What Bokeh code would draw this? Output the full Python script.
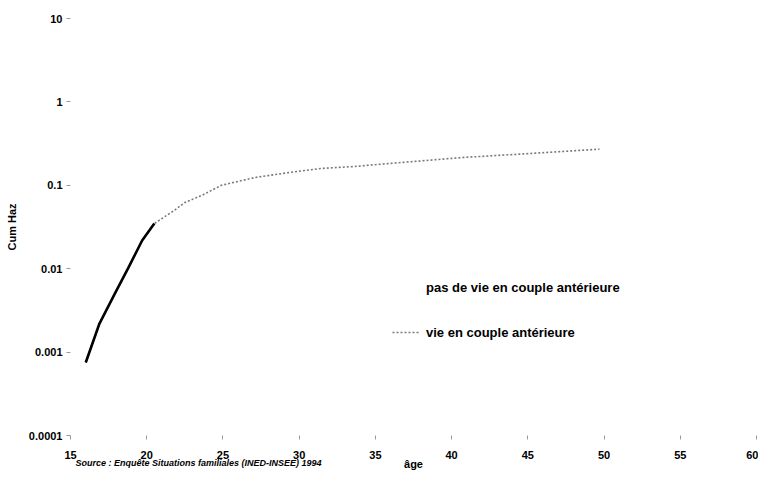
from bokeh.plotting import figure
from bokeh.models import (FixedTicker, CustomJSTickFormatter, Legend, LegendItem,
                          Title, ColumnDataSource)
from bokeh.embed import file_html
from bokeh.resources import INLINE

# ---- data ----
ages_vie = [16.0, 16.9, 17.9, 18.8, 19.7, 20.5, 21.8, 22.5, 23.6, 24.9, 27.1,
            29.3, 31.4, 33.6, 35.8, 40.8, 45.1, 49.4, 49.7]
cum_vie = [0.00075, 0.0022, 0.0050, 0.0103, 0.0218, 0.0348, 0.0499, 0.0622,
           0.0755, 0.100, 0.124, 0.142, 0.159, 0.168, 0.182, 0.216, 0.240,
           0.269, 0.272]
ages_pas = [16.0, 16.9, 17.9, 18.8, 19.7, 20.5]
cum_pas = [0.00075, 0.0022, 0.0050, 0.0103, 0.0218, 0.0348]

x_ticks = [15, 20, 25, 30, 35, 40, 45, 50, 55, 60]
y_ticks = [0.0001, 0.001, 0.01, 0.1, 1, 10]

label_pas = "pas de vie en couple antérieure"
label_vie = "vie en couple antérieure"
x_title = "âge"
y_title = "Cum Haz"
source_note = "Source : Enquête Situations familiales (INED-INSEE) 1994"

FONT = "Liberation Sans"

p = figure(width=758, height=471, x_range=(15, 60), y_range=(0.0001, 10),
           y_axis_type="log", output_backend="svg", toolbar_location=None,
           min_border_left=70, min_border_right=2, min_border_top=18,
           min_border_bottom=36)
p.outline_line_color = None
p.grid.visible = False
p.background_fill_color = "white"
p.border_fill_color = "white"

src_vie = ColumnDataSource(dict(x=ages_vie, y=cum_vie))
src_pas = ColumnDataSource(dict(x=ages_pas, y=cum_pas))

r_vie = p.line("x", "y", source=src_vie, line_color="#7a7a7a", line_width=1.6,
               line_dash="2 2")
r_pas = p.line("x", "y", source=src_pas, line_color="black", line_width=2.6)
proxy = p.line(x=[], y=[], line_color="#f2f2f2", line_width=1)

for ax in (p.xaxis[0], p.yaxis[0]):
    ax.axis_line_color = None
    ax.major_tick_line_color = "#9a9a9a"
    ax.minor_tick_line_color = None
    ax.major_tick_in = 0
    ax.major_tick_out = 4
    ax.major_label_text_font = FONT
    ax.major_label_text_font_style = "bold"
    ax.major_label_text_font_size = "11px"
    ax.major_label_text_color = "black"
    ax.axis_label_text_font = FONT
    ax.axis_label_text_font_style = "bold"
    ax.axis_label_text_font_size = "11px"
    ax.axis_label_text_color = "black"

p.xaxis.ticker = FixedTicker(ticks=x_ticks)
p.yaxis.ticker = FixedTicker(ticks=y_ticks)
p.yaxis.formatter = CustomJSTickFormatter(code="return tick.toString();")
p.xaxis.major_label_standoff = 11
p.yaxis.axis_label = y_title
p.yaxis.axis_label_standoff = 8
p.yaxis.major_label_standoff = 4

legend = Legend(items=[LegendItem(label=label_pas, renderers=[proxy]),
                       LegendItem(label=label_vie, renderers=[r_vie])],
                location=(322, 93), orientation="vertical",
                border_line_color=None, background_fill_alpha=0,
                padding=0, margin=0, spacing=25, glyph_width=28,
                glyph_height=20, label_height=20, label_standoff=6,
                label_text_font=FONT, label_text_font_style="bold",
                label_text_font_size="13px", label_text_color="black")
p.add_layout(legend, "center")

# source note and x-axis title share one line under the tick labels
note = Title(text=source_note, align="left", offset=5, standoff=-12,
             text_font=FONT, text_font_style="bold italic",
             text_font_size="9px", text_color="black")
p.add_layout(note, "below")
xt = Title(text=x_title, align="center", standoff=-16,
           text_font=FONT, text_font_style="bold",
           text_font_size="11px", text_color="black")
p.add_layout(xt, "below")

open("out.html", "w").write(file_html(p, INLINE))
